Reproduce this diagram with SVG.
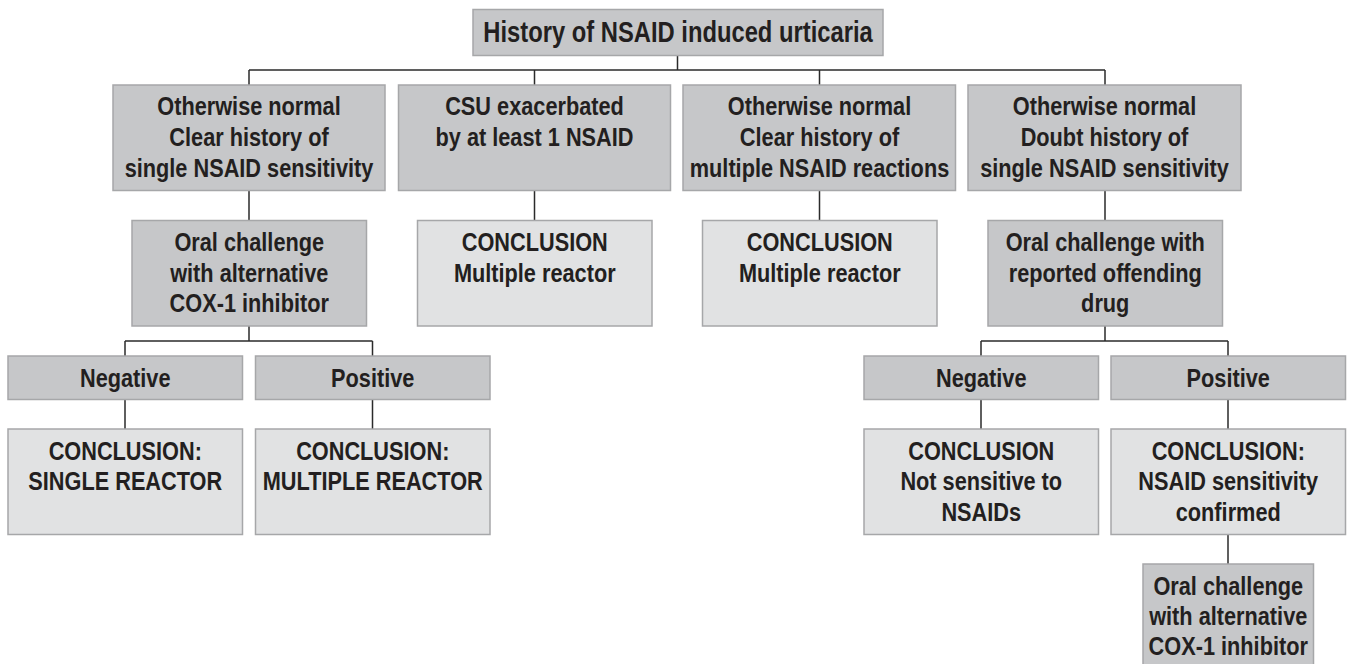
<svg xmlns="http://www.w3.org/2000/svg" width="1347" height="664" viewBox="0 0 1347 664">
<style>
.dk{fill:#c6c7c9;stroke:#a6a7a9;stroke-width:1.5}
.lt{fill:#e1e2e3;stroke:#a6a7a9;stroke-width:1.5}
text{font-family:"Liberation Sans",Arial,Helvetica,sans-serif;font-weight:bold;font-size:26.5px;fill:#231f20;text-anchor:middle}
.big{font-size:29px}
.con{fill:none;stroke:#2b2b2b;stroke-width:1.5}
</style>
<rect width="1347" height="664" fill="#ffffff"/>
<g id="connectors" class="con">
<path d="M677.5 55.5V70M249 70H1105M249 70V85M534.5 70V85M819.5 70V85M1105 70V85"/>
<path d="M249 190.5V220.5M534.5 190.5V220.5M819.5 190.5V220.5M1105 190.5V220.5"/>
<path d="M249 326V341M125 341H372.5M125 341V356M372.5 341V356"/>
<path d="M1105 326V341M981 341H1228M981 341V356M1228 341V356"/>
<path d="M125 399.5V429M372.5 399.5V429M981 399.5V429M1228 399.5V429"/>
<path d="M1228 534.5V564"/>
</g>
<g id="root"><rect class="dk" x="473" y="9.5" width="410" height="46"/><g transform="translate(678 0) scale(0.82 1)"><text class="big" x="0" y="42">History of NSAID induced urticaria</text></g></g>
<g id="b1"><rect class="dk" x="113" y="85" width="272" height="105.5"/><g transform="translate(249 0) scale(0.82 1)"><text x="0" y="115">Otherwise normal</text><text x="0" y="146">Clear history of</text><text x="0" y="177">single NSAID sensitivity</text></g></g>
<g id="b2"><rect class="dk" x="398.5" y="85" width="272" height="105.5"/><g transform="translate(534.5 0) scale(0.82 1)"><text x="0" y="115">CSU exacerbated</text><text x="0" y="146">by at least 1 NSAID</text></g></g>
<g id="b3"><rect class="dk" x="683" y="85" width="272.5" height="105.5"/><g transform="translate(819.5 0) scale(0.82 1)"><text x="0" y="115">Otherwise normal</text><text x="0" y="146">Clear history of</text><text x="0" y="177">multiple NSAID reactions</text></g></g>
<g id="b4"><rect class="dk" x="968" y="85" width="273" height="105.5"/><g transform="translate(1104.5 0) scale(0.82 1)"><text x="0" y="115">Otherwise normal</text><text x="0" y="146">Doubt history of</text><text x="0" y="177">single NSAID sensitivity</text></g></g>
<g id="oc1"><rect class="dk" x="132" y="220.5" width="234.5" height="105.5"/><g transform="translate(249.25 0) scale(0.82 1)"><text x="0" y="251.5">Oral challenge</text><text x="0" y="282">with alternative</text><text x="0" y="312.5">COX-1 inhibitor</text></g></g>
<g id="c2"><rect class="lt" x="417.5" y="220.5" width="234.5" height="105.5"/><g transform="translate(534.75 0) scale(0.82 1)"><text x="0" y="251.5">CONCLUSION</text><text x="0" y="282">Multiple reactor</text></g></g>
<g id="c3"><rect class="lt" x="702.5" y="220.5" width="234.5" height="105.5"/><g transform="translate(819.75 0) scale(0.82 1)"><text x="0" y="251.5">CONCLUSION</text><text x="0" y="282">Multiple reactor</text></g></g>
<g id="oc2"><rect class="dk" x="988" y="220.5" width="234.5" height="105.5"/><g transform="translate(1105.25 0) scale(0.82 1)"><text x="0" y="251.5">Oral challenge with</text><text x="0" y="282">reported offending</text><text x="0" y="312.5">drug</text></g></g>
<g id="n1"><rect class="dk" x="8" y="356" width="234.5" height="43.5"/><g transform="translate(125.25 0) scale(0.82 1)"><text x="0" y="387">Negative</text></g></g>
<g id="p1"><rect class="dk" x="255.5" y="356" width="234.5" height="43.5"/><g transform="translate(372.75 0) scale(0.82 1)"><text x="0" y="387">Positive</text></g></g>
<g id="n2"><rect class="dk" x="864" y="356" width="234.5" height="43.5"/><g transform="translate(981.25 0) scale(0.82 1)"><text x="0" y="387">Negative</text></g></g>
<g id="p2"><rect class="dk" x="1111" y="356" width="234.5" height="43.5"/><g transform="translate(1228.25 0) scale(0.82 1)"><text x="0" y="387">Positive</text></g></g>
<g id="cn1"><rect class="lt" x="8" y="429" width="234.5" height="105.5"/><g transform="translate(125.25 0) scale(0.82 1)"><text x="0" y="460">CONCLUSION:</text><text x="0" y="490.5">SINGLE REACTOR</text></g></g>
<g id="cp1"><rect class="lt" x="255.5" y="429" width="234.5" height="105.5"/><g transform="translate(372.75 0) scale(0.82 1)"><text x="0" y="460">CONCLUSION:</text><text x="0" y="490.5">MULTIPLE REACTOR</text></g></g>
<g id="cn2"><rect class="lt" x="864" y="429" width="234.5" height="105.5"/><g transform="translate(981.25 0) scale(0.82 1)"><text x="0" y="460">CONCLUSION</text><text x="0" y="490.5">Not sensitive to</text><text x="0" y="521">NSAIDs</text></g></g>
<g id="cp2"><rect class="lt" x="1111" y="429" width="234.5" height="105.5"/><g transform="translate(1228.25 0) scale(0.82 1)"><text x="0" y="460">CONCLUSION:</text><text x="0" y="490.5">NSAID sensitivity</text><text x="0" y="521">confirmed</text></g></g>
<g id="oc3"><rect class="dk" x="1143" y="564" width="170.5" height="106"/><g transform="translate(1228.25 0) scale(0.82 1)"><text x="0" y="595">Oral challenge</text><text x="0" y="625.5">with alternative</text><text x="0" y="655.5">COX-1 inhibitor</text></g></g>
</svg>
